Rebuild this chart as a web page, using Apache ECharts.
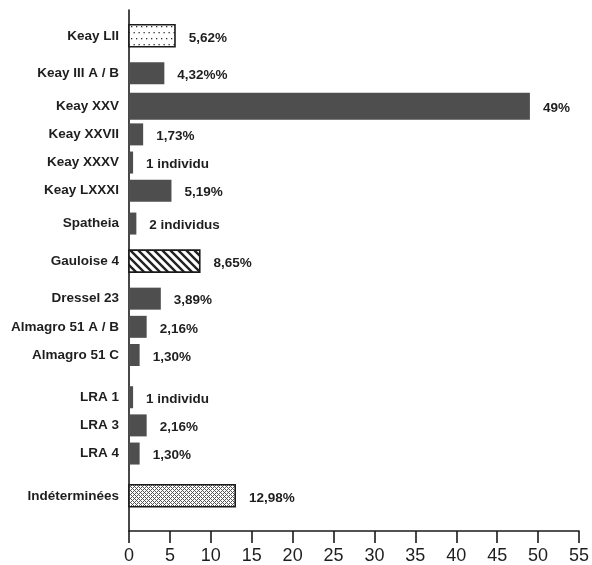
<!DOCTYPE html>
<html>
<head>
<meta charset="utf-8">
<script src="https://cdn.jsdelivr.net/npm/echarts@6/dist/echarts.min.js"></script>
<style>
  html, body { margin: 0; padding: 0; background: #ffffff; }
  #chart { width: 592px; height: 565px; }
</style>
</head>
<body>
<div id="chart"></div>
<script>
// Amphora types and their share of the assemblage (%)
const categories = [
  'Keay LII', 'Keay III A / B', 'Keay XXV', 'Keay XXVII', 'Keay XXXV',
  'Keay LXXXI', 'Spatheia', 'Gauloise 4', 'Dressel 23', 'Almagro 51 A / B',
  'Almagro 51 C', 'LRA 1', 'LRA 3', 'LRA 4', 'Indéterminées'
];
const values = [5.62, 4.32, 49, 1.73, 0.5, 5.19, 0.9, 8.65, 3.89, 2.16, 1.30, 0.5, 2.16, 1.30, 12.98];
const valueLabels = [
  '5,62%', '4,32%%', '49%', '1,73%', '1 individu', '5,19%', '2 individus',
  '8,65%', '3,89%', '2,16%', '1,30%', '1 individu', '2,16%', '1,30%', '12,98%'
];
const xTicks = [0, 5, 10, 15, 20, 25, 30, 35, 40, 45, 50, 55];

// Vertical layout: the rows are not evenly spaced, so the category axis is
// built from fine slots and each type sits a number of slots below the previous one.
const LEAD_SLOTS = 5;
const ROW_STEPS = [8, 7, 6, 6, 6, 7, 8, 8, 6, 6, 9, 6, 6, 9];
const TRAIL_SLOTS = 7;

const rowSlot = [LEAD_SLOTS];
ROW_STEPS.forEach(s => rowSlot.push(rowSlot[rowSlot.length - 1] + s));
const slotCount = rowSlot[rowSlot.length - 1] + 1 + TRAIL_SLOTS;
const slotLabels = [];
for (let i = 0; i < slotCount; i++) slotLabels.push('');
rowSlot.forEach((s, i) => { slotLabels[s] = categories[i]; });

// Fill patterns
function makeTile(w, h, draw) {
  const c = document.createElement('canvas');
  c.width = w; c.height = h;
  const ctx = c.getContext('2d');
  ctx.fillStyle = '#ffffff';
  ctx.fillRect(0, 0, w, h);
  draw(ctx);
  return { image: c, repeat: 'repeat' };
}
const dotFill = makeTile(10, 12, ctx => {
  ctx.fillStyle = '#333';
  ctx.fillRect(1, 2, 1.3, 1.3);
  ctx.fillRect(6, 2, 1.3, 1.3);
  ctx.fillRect(3.5, 8, 1.3, 1.3);
  ctx.fillRect(8.5, 8, 1.3, 1.3);
});
const hatchFill = makeTile(8, 8, ctx => {
  ctx.strokeStyle = '#222';
  ctx.lineWidth = 2.4;
  ctx.beginPath();
  ctx.moveTo(-2, -2); ctx.lineTo(10, 10);
  ctx.moveTo(-10, -2); ctx.lineTo(2, 10);
  ctx.moveTo(6, -2); ctx.lineTo(18, 10);
  ctx.stroke();
});
const screenFill = makeTile(4, 4, ctx => {
  ctx.fillStyle = '#555';
  for (let x = 0; x < 4; x++) {
    for (let y = 0; y < 4; y++) {
      if ((x + y) % 4 === 0 || (x - y + 4) % 4 === 0) ctx.fillRect(x, y, 1, 1);
    }
  }
});
const fillFor = {
  'Keay LII': dotFill,
  'Gauloise 4': hatchFill,
  'Indéterminées': screenFill
};
const SOLID = '#4e4e4e';

const seriesData = values.map((v, i) => [v, rowSlot[i]]);

function renderBar(params, api) {
  const i = params.dataIndex;
  const slot = api.value(1);
  const start = api.coord([0, slot]);
  const end = api.coord([api.value(0), slot]);
  const name = categories[i];
  const h = name === 'Keay XXV' ? 27 : 22;
  const pattern = fillFor[name];
  return {
    type: 'rect',
    shape: { x: start[0], y: start[1] - h / 2, width: end[0] - start[0], height: h },
    style: pattern
      ? { fill: pattern, stroke: '#1a1a1a', lineWidth: 1.6 }
      : { fill: SOLID },
    textContent: {
      type: 'text',
      style: {
        text: valueLabels[i],
        fill: '#1e1e1e',
        font: 'bold 13.5px "Liberation Sans", Arial, Helvetica, sans-serif'
      }
    },
    textConfig: { position: 'right', distance: 13, offset: [0, 2] }
  };
}

const chart = echarts.init(document.getElementById('chart'), null, { renderer: 'canvas' });
chart.setOption({
  animation: false,
  backgroundColor: '#ffffff',
  grid: { left: 129, right: 12, top: 10, bottom: 34, containLabel: false },
  xAxis: {
    type: 'value',
    min: xTicks[0],
    max: xTicks[xTicks.length - 1],
    interval: xTicks[1] - xTicks[0],
    splitLine: { show: false },
    axisLine: { show: true, lineStyle: { color: '#1a1a1a', width: 1.6 } },
    axisTick: { show: true, inside: false, length: 12, lineStyle: { color: '#1a1a1a', width: 1.6 } },
    axisLabel: {
      margin: 16,
      color: '#1e1e1e',
      fontSize: 18,
      fontFamily: '"Liberation Sans Narrow", "Arial Narrow", "Liberation Sans", Arial, sans-serif'
    }
  },
  yAxis: {
    type: 'category',
    inverse: true,
    data: slotLabels,
    axisLine: { show: true, lineStyle: { color: '#1a1a1a', width: 1.6 } },
    axisTick: { show: false },
    splitLine: { show: false },
    axisLabel: {
      interval: 0,
      margin: 10,
      color: '#1e1e1e',
      fontSize: 13.5,
      fontWeight: 'bold',
      fontFamily: '"Liberation Sans", Arial, Helvetica, sans-serif'
    }
  },
  series: [{
    type: 'custom',
    renderItem: renderBar,
    encode: { x: 0, y: 1 },
    data: seriesData,
    clip: false
  }]
});
</script>
</body>
</html>
